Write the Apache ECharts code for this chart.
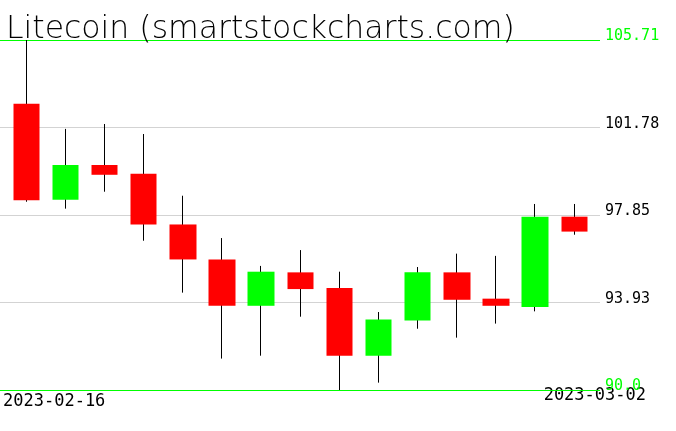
<!DOCTYPE html>
<html>
<head>
<meta charset="utf-8">
<script src="https://cdn.jsdelivr.net/npm/echarts@6/dist/echarts.min.js"></script>
<style>
html,body{margin:0;padding:0;background:#fff;}
#chart{width:676px;height:431px;}
</style>
</head>
<body>
<div id="chart"></div>
<script>
const titleText = 'Litecoin (smartstockcharts.com)';
const categories = ['2023-02-16','2023-02-17','2023-02-18','2023-02-19','2023-02-20','2023-02-21','2023-02-22','2023-02-23','2023-02-24','2023-02-25','2023-02-26','2023-02-27','2023-02-28','2023-03-01','2023-03-02'];
const openVals  = [102.85, 98.54, 100.10, 99.71, 97.43, 95.86, 93.78, 95.28, 94.58, 91.54, 93.12, 95.28, 94.10, 93.73, 97.78];
const closeVals = [ 98.52, 100.10, 99.66, 97.43, 95.86, 93.78, 95.31, 94.53, 91.54, 93.16, 95.28, 94.05, 93.78, 97.78, 97.11];
const lowVals   = [ 98.45, 98.14, 98.90, 96.70, 94.37, 91.41, 91.54, 93.29, 90.00, 90.33, 92.75, 92.35, 92.98, 93.53, 96.97];
const highVals  = [105.71, 101.72, 101.94, 101.49, 98.72, 96.82, 95.57, 96.28, 95.31, 93.50, 95.52, 96.12, 96.02, 98.35, 98.35];
const tickLabels = ['90.0', '93.93', '97.85', '101.78', '105.71'];

const yMin = Number(tickLabels[0]);
const yMax = Number(tickLabels[tickLabels.length - 1]);

const bodyData = categories.map((c, i) => [openVals[i], closeVals[i], Math.min(openVals[i], closeVals[i]), Math.max(openVals[i], closeVals[i])]);
const wickData = categories.map((c, i) => [openVals[i], closeVals[i], lowVals[i], highVals[i]]);

const GREEN = '#00ff00';
const RED = '#ff0000';
const GREY = '#d3d3d3';
const lineColors = tickLabels.map((t, i) => (i === 0 || i === tickLabels.length - 1) ? GREEN : GREY);

const chart = echarts.init(document.getElementById('chart'), null, {renderer: 'canvas'});
chart.setOption({
  animation: false,
  backgroundColor: '#fff',
  title: {
    text: titleText,
    left: 1,
    top: 9,
    textStyle: {fontFamily: 'DejaVu Sans', fontSize: 31.5, fontWeight: 200, color: '#000'}
  },
  grid: [
    {left: 6.7, right: 82.1, top: 40, bottom: 41},
    {left: 0, right: 76, top: 40, bottom: 41}
  ],
  xAxis: [
    {gridIndex: 0, type: 'category', data: categories, boundaryGap: true, show: false},
    {gridIndex: 1, type: 'value', min: 0, max: 1, show: false}
  ],
  yAxis: [
    {gridIndex: 0, type: 'value', min: yMin, max: yMax, show: false, splitLine: {show: false}},
    {gridIndex: 1, type: 'value', min: 0, max: tickLabels.length - 1, interval: 1, position: 'right',
     axisLine: {show: false}, axisTick: {show: false},
     splitLine: {show: true, lineStyle: {color: lineColors, width: 1}},
     axisLabel: {
       margin: 5,
       fontFamily: 'DejaVu Sans Mono',
       fontSize: 15,
       lineHeight: 7,
       verticalAlign: 'bottom',
       formatter: (v) => tickLabels[Math.round(v)],
       color: (v) => lineColors[Math.round(v)] === GREEN ? GREEN : '#000'
     }
    }
  ],
  series: [
    {
      type: 'candlestick', xAxisIndex: 0, yAxisIndex: 0, data: wickData, barWidth: 1, z: 2,
      itemStyle: {color: '#000', color0: '#000', borderColor: '#000', borderColor0: '#000', borderWidth: 1}
    },
    {
      type: 'candlestick', xAxisIndex: 0, yAxisIndex: 0, data: bodyData, barWidth: 27, z: 3,
      itemStyle: {color: GREEN, color0: RED, borderColor: GREEN, borderColor0: RED, borderWidth: 0}
    }
  ],
  graphic: [
    {type: 'text', left: 3, top: 393, style: {text: categories[0], font: '17px "DejaVu Sans Mono"', fill: '#000'}},
    {type: 'text', right: 30, top: 387, style: {text: categories[categories.length - 1], font: '17px "DejaVu Sans Mono"', fill: '#000'}}
  ]
});
</script>
</body>
</html>
